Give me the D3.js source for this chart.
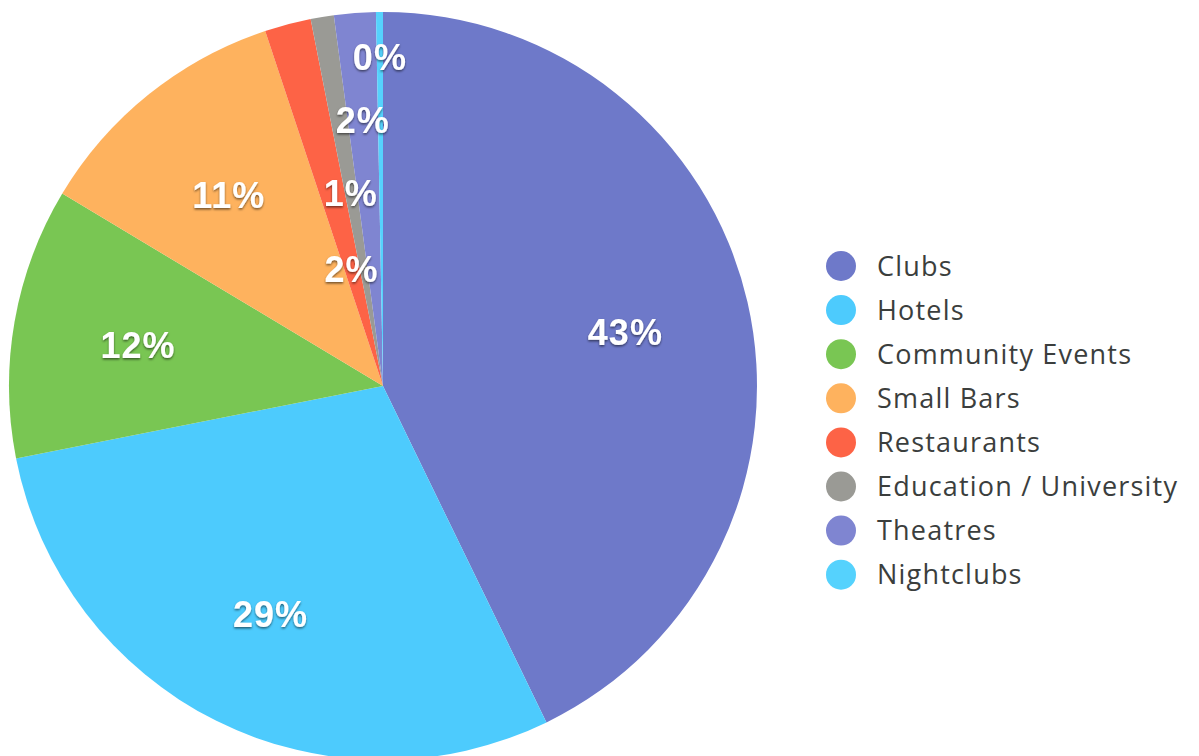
<!DOCTYPE html>
<html>
<head>
<meta charset="utf-8">
<script src="https://cdn.jsdelivr.net/npm/d3@7"></script>
<style>
  body { margin: 0; background: #fff; }
  .slice-label { font-family: "Liberation Sans", Arial, sans-serif; font-weight: bold; fill: #fff; letter-spacing: 1px; }
  .legend-text { font-family: "Open Sans", sans-serif; fill: #3b3e3d; letter-spacing: 1.2px; }
</style>
</head>
<body>
<div id="vis"></div>
<script>

// frame constants
const FRAME_WIDTH = 1199;
const FRAME_HEIGHT = 756;
const CENTER = {x: 383, y: 386};
const RADIUS = 374;

// data (share of venues, %)
const CATEGORIES = ["Clubs", "Hotels", "Community Events", "Small Bars", "Restaurants",
                    "Education / University", "Theatres", "Nightclubs"];
const VALUES = [42.8, 29.1, 11.7, 11.3, 2.0, 1.0, 1.8, 0.3];
const LABELS = ["43%", "29%", "12%", "11%", "2%", "1%", "2%", "0%"];
const COLORS = ["#6e79c9", "#4dcbfd", "#79c653", "#feb25e", "#fd6346",
                "#9a9a95", "#7f85d1", "#55d2fd"];

// label distance from centre (fraction of radius) - small slices are staggered
const LABEL_R = [0.665, 0.675, 0.665, 0.66, 0.33, 0.53, 0.72, 0.885];

const data = CATEGORIES.map((c, i) => ({category: c, value: VALUES[i], label: LABELS[i], idx: i}));

const FRAME = d3.select("#vis")
                .append("svg")
                  .attr("width", FRAME_WIDTH)
                  .attr("height", FRAME_HEIGHT);

const COLOR = d3.scaleOrdinal().domain(CATEGORIES).range(COLORS);

const pie = d3.pie().value((d) => d.value).sort(null);
const arcs = pie(data);
const arc = d3.arc().innerRadius(0).outerRadius(RADIUS);

const G = FRAME.append("g")
               .attr("transform", "translate(" + CENTER.x + "," + CENTER.y + ")");

// slices
G.selectAll("path")
  .data(arcs)
  .enter()
  .append("path")
    .attr("d", arc)
    .attr("fill", (d) => COLOR(d.data.category));

// shadow filter for the white labels
const defs = FRAME.append("defs");
const filt = defs.append("filter").attr("id", "shadow")
                 .attr("x", "-20%").attr("y", "-20%").attr("width", "140%").attr("height", "140%");
filt.append("feDropShadow")
    .attr("dx", 0).attr("dy", 1.5).attr("stdDeviation", 0.8)
    .attr("flood-color", "#000").attr("flood-opacity", 0.55);

// percentage labels
G.selectAll(".slice-label")
  .data(arcs)
  .enter()
  .append("text")
    .attr("class", "slice-label")
    .attr("transform", (d) => {
      const r = RADIUS * LABEL_R[d.data.idx];
      const c = d3.arc().innerRadius(r).outerRadius(r).centroid(d);
      return "translate(" + c[0] + "," + c[1] + ")";
    })
    .attr("text-anchor", "middle")
    .attr("dy", "0.42em")
    .attr("font-size", "36px")
    .attr("filter", "url(#shadow)")
    .text((d) => d.data.label);

// legend
const LEG = FRAME.append("g").attr("transform", "translate(841,266)");
const ROW = 44.1;

LEG.selectAll("circle")
  .data(CATEGORIES)
  .enter()
  .append("circle")
    .attr("cx", 0)
    .attr("cy", (d, i) => i * ROW)
    .attr("r", 15)
    .attr("fill", (d) => COLOR(d));

LEG.selectAll(".legend-text")
  .data(CATEGORIES)
  .enter()
  .append("text")
    .attr("class", "legend-text")
    .attr("x", 36)
    .attr("y", (d, i) => i * ROW)
    .attr("dy", "0.36em")
    .attr("font-size", "27px")
    .text((d) => d);

</script>
</body>
</html>
